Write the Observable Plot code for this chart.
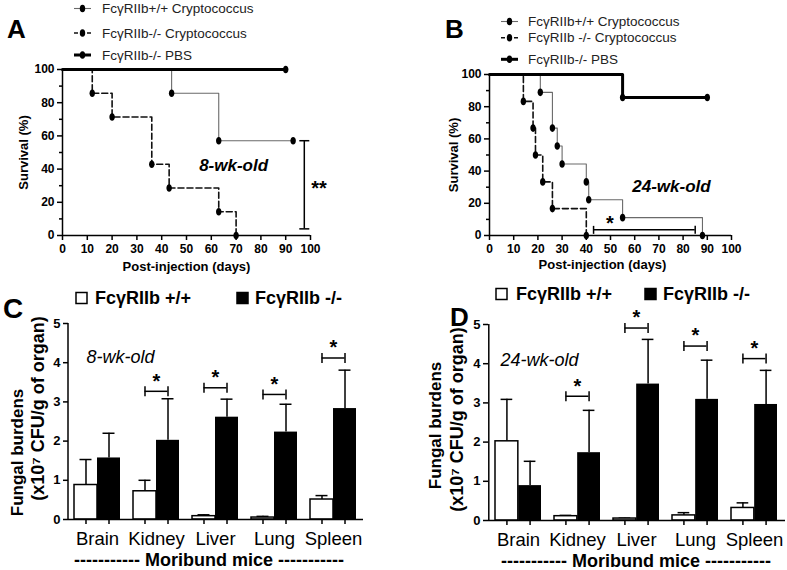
<!DOCTYPE html>
<html>
<head>
<meta charset="utf-8">
<script src="https://cdn.jsdelivr.net/npm/d3@7"></script>
<script src="https://cdn.jsdelivr.net/npm/@observablehq/plot@0.6"></script>
<style>
  body { margin: 0; background: #fff; }
  #fig { position: relative; width: 787px; height: 570px; overflow: hidden; background: #fff;
         font-family: "Liberation Sans", Arial, Helvetica, sans-serif; }
  .panel { position: absolute; }
  #fig svg g[aria-label$="tick"] { stroke-width: 1.5px; }
</style>
</head>
<body>
<div id="fig"></div>
<script>
const FONT = '"Liberation Sans", Arial, Helvetica, sans-serif';

// ---------------- Survival data (panel A, 8-wk-old) ----------------
const daysA_wt  = [0, 44, 63, 93];
const survA_wt  = [100, 85.7, 57.1, 57.1];
const daysA_ko  = [0, 12, 20, 36, 43, 63, 70];
const survA_ko  = [100, 85.7, 71.4, 42.9, 28.6, 14.3, 0];
const daysA_pbs = [0, 90];
const survA_pbs = [100, 100];

// ---------------- Survival data (panel B, 24-wk-old) ----------------
const daysB_wt  = [0, 21, 26, 28, 30, 40, 41, 55, 88];
const survB_wt  = [100, 88.9, 66.7, 55.6, 44.4, 33.3, 22.2, 11.1, 0];
const daysB_ko  = [0, 14, 18, 19, 22, 26, 40];
const survB_ko  = [100, 83.3, 66.7, 50, 33.3, 16.7, 0];
const daysB_pbs = [0, 55, 90];
const survB_pbs = [100, 85.7, 85.7];

const legendA = ["FcγRIIb+/+ Cryptococcus", "FcγRIIb-/- Cryptococcus", "FcγRIIb-/- PBS"];
const legendB = ["FcγRIIb+/+ Cryptococcus", "FcγRIIb -/- Cryptococcus", "FcγRIIb-/- PBS"];

const survTicksMajor = [0, 20, 40, 60, 80, 100];
const survTicksMinor = [10, 30, 50, 70, 90];
const dayTicks = [0, 10, 20, 30, 40, 50, 60, 70, 80, 90, 100];

// significance annotations (data units)
const sigA = {day: 97.5, from: 57.1, to: 4, label: "**", labelDay: 103.4, labelPct: 28.5};
const sigB = {pct: 3.5, from: 43, to: 85, label: "*", labelDay: 49.7, labelPct: 7.4};

// ---------------- Fungal burden data (panels C, D) ----------------
const organs = ["Brain", "Kidney", "Liver", "Lung", "Spleen"];
const genotypes = ["FcγRIIb +/+", "FcγRIIb -/-"];
const burdenTicks = [0, 1, 2, 3, 4, 5];

const C_wt    = [0.88, 0.72, 0.085, 0.05, 0.51];
const C_wtErr = [1.53, 1.00, 0.12, 0.08, 0.61];
const C_ko    = [1.57, 2.02, 2.61, 2.23, 2.83];
const C_koErr = [2.20, 3.08, 3.07, 2.94, 3.81];
const C_sigOrgans = ["Kidney", "Liver", "Lung", "Spleen"];
const C_sigY  = [3.27, 3.36, 3.19, 4.12];

const D_wt    = [2.02, 0.11, 0.05, 0.13, 0.32];
const D_wtErr = [3.09, 0.13, 0.06, 0.20, 0.45];
const D_ko    = [0.89, 1.73, 3.48, 3.09, 2.96];
const D_koErr = [1.51, 2.81, 4.62, 4.09, 3.83];
const D_sigOrgans = ["Kidney", "Liver", "Lung", "Spleen"];
const D_sigY  = [3.17, 4.91, 4.45, 4.13];

const yTitle1 = "Fungal burdens";
const yTitle2 = "(x10⁷ CFU/g of organ)";
const xTitleBars = "----------- Moribund mice -----------";

// ---------------- symbols ----------------
const capsule = {draw(ctx, size) {
  const ry = Math.sqrt(size / Math.PI), rx = ry * 0.72, k = 0.5523;
  ctx.moveTo(0, -ry);
  ctx.bezierCurveTo(rx * k, -ry, rx, -ry * k, rx, 0);
  ctx.bezierCurveTo(rx, ry * k, rx * k, ry, 0, ry);
  ctx.bezierCurveTo(-rx * k, ry, -rx, ry * k, -rx, 0);
  ctx.bezierCurveTo(-rx, -ry * k, -rx * k, -ry, 0, -ry);
  ctx.closePath();
}};
const hSeg = {draw(ctx, size) { const r = Math.sqrt(size / Math.PI); ctx.moveTo(-r, 0); ctx.lineTo(r, 0); }};
const vSeg = {draw(ctx, size) { const r = Math.sqrt(size / Math.PI); ctx.moveTo(0, -r); ctx.lineTo(0, r); }};

const seriesStyles = [
  {stroke: "#6a6a6a", strokeWidth: 1.1, dash: null},
  {stroke: "#111", strokeWidth: 1.6, dash: "6,3"},
  {stroke: "#000", strokeWidth: 3, dash: null}
];

const baseStyle = {fontFamily: FONT, background: "transparent", overflow: "visible", color: "black", maxWidth: "none"};

function survivalPanel(o) {
  const marks = [
    Plot.ruleX([0], {strokeWidth: 1.5}),
    Plot.ruleY([0], {strokeWidth: 1.5}),
    Plot.axisY({ticks: survTicksMajor, tickSize: 5, tickPadding: 3, fontSize: 12, fontWeight: "bold", label: null}),
    Plot.axisY({ticks: survTicksMinor, tickSize: 3, tickFormat: () => "", label: null}),
    Plot.axisX({ticks: dayTicks, tickSize: 5, tickPadding: 3.5, fontSize: 12, fontWeight: "bold", label: null})
  ];
  o.series.forEach((s, k) => {
    const pts = s.days.map((d, i) => ({day: d, pct: s.pct[i]}));
    const st = seriesStyles[k];
    marks.push(Plot.line(pts, {x: "day", y: "pct", curve: "step-after", stroke: st.stroke,
      strokeWidth: st.strokeWidth, strokeDasharray: st.dash}));
  });
  o.series.forEach((s) => {
    const pts = s.days.map((d, i) => ({day: d, pct: s.pct[i]})).slice(1);
    marks.push(Plot.dot(pts, {x: "day", y: "pct", symbol: capsule, r: 3.8, fill: "black", stroke: "none"}));
  });
  marks.push(...o.sigMarks);
  marks.push(
    Plot.text([o.age], {x: o.ageDay, y: o.agePct, fontSize: 17, fontWeight: "bold", fontStyle: "italic"}),
    Plot.text(["Survival (%)"], {frameAnchor: "left", dx: o.yTitleDx, rotate: -90, textAnchor: "middle",
      lineAnchor: "middle", fontSize: 13, fontWeight: "bold"}),
    Plot.text(["Post-injection (days)"], {frameAnchor: "bottom", dx: o.xTitleDx, dy: o.xTitleDy,
      textAnchor: "middle", lineAnchor: "middle", fontSize: 13, fontWeight: "bold"})
  );
  return Plot.plot({
    width: o.width, height: o.height,
    marginLeft: o.mL, marginRight: o.mR, marginTop: o.mT, marginBottom: o.mB,
    x: {domain: [0, 100], label: null},
    y: {domain: [0, 100], label: null},
    style: baseStyle,
    marks
  });
}

function barPanel(o) {
  const n = organs.length, pIn = 0.22, pOut = 0.11;
  const step = (o.width - o.mL - o.mR) / (n - pIn + 2 * pOut);
  const bw = step * (1 - pIn), q = bw / 4, cap = 6;
  const rows = organs.map((organ, i) => ({organ, wt: o.wt[i], wtErr: o.wtErr[i], ko: o.ko[i], koErr: o.koErr[i]}));
  const sig = o.sigOrgans.map((organ, i) => ({organ, y: o.sigY[i]}));
  return Plot.plot({
    width: o.width, height: o.height,
    marginLeft: o.mL, marginRight: o.mR, marginTop: o.mT, marginBottom: o.mB,
    x: {type: "band", domain: organs, paddingInner: pIn, paddingOuter: pOut, label: null},
    y: {domain: [0, 5], label: null},
    style: baseStyle,
    marks: [
      Plot.ruleX(rows, {x: "organ", y1: "wt", y2: "wtErr", dx: -q, strokeWidth: 1.5}),
      Plot.tickY(rows, {x: "organ", y: "wtErr", insetLeft: q - cap, insetRight: 3 * q - cap, strokeWidth: 1.5}),
      Plot.ruleX(rows, {x: "organ", y1: "ko", y2: "koErr", dx: q, strokeWidth: 1.5}),
      Plot.tickY(rows, {x: "organ", y: "koErr", insetLeft: 3 * q - cap, insetRight: q - cap, strokeWidth: 1.5}),
      Plot.barY(rows, {x: "organ", y: "wt", fill: "white", stroke: "black", strokeWidth: 1.5, insetRight: bw / 2}),
      Plot.barY(rows, {x: "organ", y: "ko", fill: "black", insetLeft: bw / 2}),
      Plot.ruleY([0], {strokeWidth: 1.5}),
      Plot.ruleX([organs[0]], {y1: 0, y2: 5, dx: -(pOut * step + bw / 2), strokeWidth: 1.5}),
      Plot.axisY({ticks: burdenTicks, tickFormat: (d) => String(d), tickSize: 5, tickPadding: 3,
        fontSize: 13, fontWeight: "bold", label: null}),
      Plot.axisX({tickSize: 5, dx: -q, tickFormat: () => "", label: null}),
      Plot.axisX({tickSize: 5, dx: q, tickFormat: () => "", label: null}),
      Plot.axisX({tickSize: 0, tickPadding: 12.5, fontSize: 18.5, label: null}),
      Plot.tickY(sig, {x: "organ", y: "y", insetLeft: q, insetRight: q, strokeWidth: 1.5}),
      Plot.dot(sig, {x: "organ", y: "y", dx: -q, symbol: vSeg, r: 5, fill: "none", stroke: "black", strokeWidth: 1.5}),
      Plot.dot(sig, {x: "organ", y: "y", dx: q, symbol: vSeg, r: 5, fill: "none", stroke: "black", strokeWidth: 1.5}),
      Plot.text(sig, {x: "organ", y: "y", text: () => "*", dy: -10, fontSize: 20, fontWeight: "bold"}),
      Plot.text([o.age], {frameAnchor: "top-left", dx: o.ageDx, dy: o.ageDy, textAnchor: "start",
        lineAnchor: "middle", fontSize: 18, fontStyle: "italic"}),
      Plot.text([yTitle1], {frameAnchor: "top-left", dx: o.t1dx, dy: o.t1dy, rotate: -90, textAnchor: "middle",
        lineAnchor: "middle", fontSize: 17, fontWeight: "bold"}),
      Plot.text([yTitle2], {frameAnchor: "top-left", dx: o.t2dx, dy: o.t2dy, rotate: -90, textAnchor: "middle",
        lineAnchor: "middle", fontSize: 18, fontWeight: "bold"}),
      Plot.text([xTitleBars], {frameAnchor: "bottom", dx: o.mdx, dy: o.mdy, textAnchor: "middle",
        lineAnchor: "middle", fontSize: 18, fontWeight: "bold"})
    ]
  });
}

const fig = document.getElementById("fig");
function place(node, left, top) {
  const d = document.createElement("div");
  d.className = "panel"; d.style.left = left + "px"; d.style.top = top + "px";
  d.appendChild(node); fig.appendChild(d);
}

const panelA = survivalPanel({
  width: 393, height: 280, mL: 62, mR: 83, mT: 69, mB: 45,
  series: [{days: daysA_wt, pct: survA_wt}, {days: daysA_ko, pct: survA_ko}, {days: daysA_pbs, pct: survA_pbs}],
  sigMarks: [
    Plot.ruleX([sigA], {x: "day", y1: "from", y2: "to", strokeWidth: 1.5}),
    Plot.dot([{day: sigA.day, pct: sigA.from}, {day: sigA.day, pct: sigA.to}],
      {x: "day", y: "pct", symbol: hSeg, r: 5, fill: "none", stroke: "black", strokeWidth: 1.5}),
    Plot.text([sigA], {x: "labelDay", y: "labelPct", text: "label", fontSize: 20, fontWeight: "bold"})
  ],
  age: "8-wk-old", ageDay: 69, agePct: 42,
  yTitleDx: -39, xTitleDx: 0, xTitleDy: 31
});
place(panelA, 0, 0);

const panelB = survivalPanel({
  width: 394, height: 280, mL: 96, mR: 56, mT: 74, mB: 45,
  series: [{days: daysB_wt, pct: survB_wt}, {days: daysB_ko, pct: survB_ko}, {days: daysB_pbs, pct: survB_pbs}],
  sigMarks: [
    Plot.ruleY([sigB], {x1: "from", x2: "to", y: "pct", strokeWidth: 1.5}),
    Plot.dot([{day: sigB.from, pct: sigB.pct}, {day: sigB.to, pct: sigB.pct}],
      {x: "day", y: "pct", symbol: vSeg, r: 4, fill: "none", stroke: "black", strokeWidth: 1.5}),
    Plot.text([sigB], {x: "labelDay", y: "labelPct", text: "label", fontSize: 20, fontWeight: "bold"})
  ],
  age: "24-wk-old", ageDay: 75.2, agePct: 30.6,
  yTitleDx: -36, xTitleDx: -8, xTitleDy: 29
});
place(panelB, 393, 0);

const panelC = barPanel({
  width: 393, height: 290, mL: 68, mR: 30, mT: 43, mB: 51,
  wt: C_wt, wtErr: C_wtErr, ko: C_ko, koErr: C_koErr, sigOrgans: C_sigOrgans, sigY: C_sigY,
  age: "8-wk-old", ageDx: 18, ageDy: 34,
  t1dx: -51, t1dy: 129, t2dx: -30, t2dy: 85, mdx: -7, mdy: 41
});
place(panelC, 0, 280);

const panelD = barPanel({
  width: 394, height: 290, mL: 95, mR: 2, mT: 44, mB: 50,
  wt: D_wt, wtErr: D_wtErr, ko: D_ko, koErr: D_koErr, sigOrgans: D_sigOrgans, sigY: D_sigY,
  age: "24-wk-old", ageDx: 12, ageDy: 36,
  t1dx: -53, t1dy: 101, t2dx: -31, t2dy: 95, mdx: -1, mdy: 41
});
place(panelD, 393, 280);

// ---------------- overlay: panel letters and legends ----------------
const ov = d3.select(fig).append("svg")
  .attr("width", 787).attr("height", 570)
  .style("position", "absolute").style("left", 0).style("top", 0)
  .style("font-family", FONT).style("pointer-events", "none");

const letters = [["A", 7, 38, 26], ["B", 445, 38, 26], ["C", 3, 318, 28], ["D", 450, 326, 26]];
letters.forEach(([t, x, y, fs]) => ov.append("text").attr("x", x).attr("y", y)
  .attr("font-size", fs).attr("font-weight", "bold").text(t));

function survLegend(labels, x0, ys, tx) {
  labels.forEach((lab, k) => {
    const st = seriesStyles[k], y = ys[k];
    ov.append("line").attr("x1", x0).attr("x2", x0 + 17).attr("y1", y).attr("y2", y)
      .attr("stroke", st.stroke).attr("stroke-width", st.strokeWidth)
      .attr("stroke-dasharray", k === 1 ? "4,2.5" : null);
    ov.append("ellipse").attr("cx", x0 + 8.5).attr("cy", y).attr("rx", 2.7).attr("ry", 3.8).attr("fill", "black");
    ov.append("text").attr("x", tx).attr("y", y).attr("dy", "0.35em").attr("font-size", 13.5)
      .attr("fill", "#222").text(lab);
  });
}
survLegend(legendA, 74, [8.5, 33, 55], 102);
survLegend(legendB, 501, [21.5, 37.7, 59.3], 528);

function barLegend(y, xs) {
  // xs: [whiteSquareX, whiteTextX, blackSquareX, blackTextX]
  ov.append("rect").attr("x", xs[0]).attr("y", y - 5.5).attr("width", 11).attr("height", 11)
    .attr("fill", "white").attr("stroke", "black").attr("stroke-width", 1.5);
  ov.append("text").attr("x", xs[1]).attr("y", y).attr("dy", "0.35em").attr("font-size", 18)
    .attr("font-weight", "bold").text(genotypes[0]);
  ov.append("rect").attr("x", xs[2]).attr("y", y - 5.5).attr("width", 11).attr("height", 11)
    .attr("fill", "black").attr("stroke", "black").attr("stroke-width", 1.5);
  ov.append("text").attr("x", xs[3]).attr("y", y).attr("dy", "0.35em").attr("font-size", 18)
    .attr("font-weight", "bold").text(genotypes[1]);
}
barLegend(298, [76, 95, 237, 255]);
barLegend(294, [496, 516, 645, 663]);
</script>
</body>
</html>
